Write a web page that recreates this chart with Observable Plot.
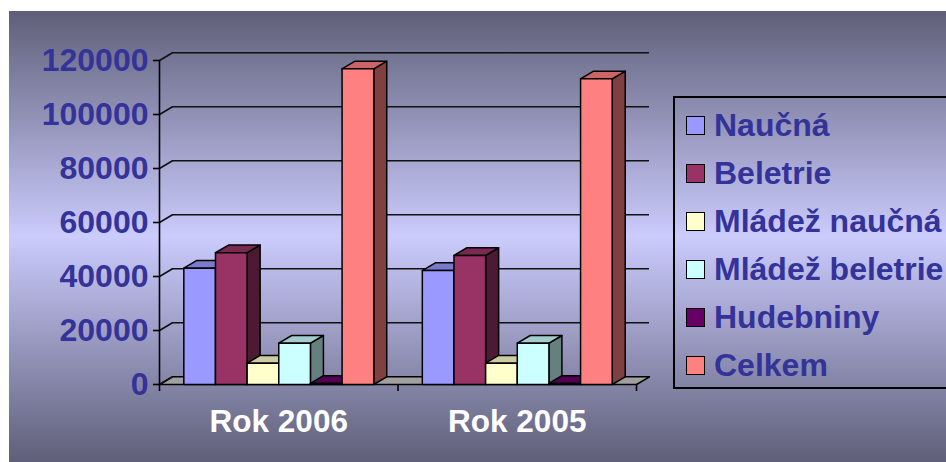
<!DOCTYPE html>
<html>
<head>
<meta charset="utf-8">
<script src="https://cdn.jsdelivr.net/npm/d3@7"></script>
<script src="https://cdn.jsdelivr.net/npm/@observablehq/plot@0.6"></script>
<style>
  html, body { margin: 0; padding: 0; background: #ffffff; }
  #wrap { position: relative; width: 946px; height: 462px; overflow: hidden; background: #ffffff;
          font-family: 'Liberation Sans', Arial, sans-serif; }
  #panel { position: absolute; left: 9px; top: 11px; right: 0; bottom: 0;
           background: linear-gradient(to bottom, #5f5f79 0%, #cbcbfd 50%, #5f5f79 100%); }
  #chart { position: absolute; left: 0; top: 0; }
  #legend { position: absolute; left: 673px; top: 96px; width: 290px; height: 286px;
            border: 2px solid #000; box-sizing: content-box; padding-top: 3px; }
  .item { height: 48px; display: flex; align-items: center; padding-left: 11px; }
  .sw { width: 17px; height: 17px; border: 1.5px solid #000; margin-right: 9px; flex: none; }
  .lab { font-size: 32px; font-weight: bold; color: #333399; white-space: nowrap; line-height: 48px; }
</style>
</head>
<body>
<div id="wrap">
  <div id="panel"></div>
  <div id="chart"></div>
  <div id="legend"></div>
</div>
<script>
// ---- data ----
const categories = ["Rok 2006", "Rok 2005"];
const seriesNames = ["Naučná", "Beletrie", "Mládež naučná", "Mládež beletrie", "Hudebniny", "Celkem"];
const naucna = [43100, 42200];
const beletrie = [48800, 47800];
const mladezNaucna = [7900, 7900];
const mladezBeletrie = [15300, 15300];
const hudebniny = [400, 400];
const celkem = [116900, 113200];
const yTicks = [0, 20000, 40000, 60000, 80000, 100000, 120000];
const seriesColors = ["#9999FF", "#993366", "#FFFFCC", "#CCFFFF", "#660066", "#FF8080"];

const seriesValues = [naucna, beletrie, mladezNaucna, mladezBeletrie, hudebniny, celkem];

// ---- 3D layout constants (in scale units) ----
const pad = 0.102, barW = 0.1327;
const ddx = 0.0545, ddy = 2850;

function shade(c, k) {
  const r = d3.rgb(c);
  return d3.rgb(r.r * k, r.g * k, r.b * k).formatHex();
}

// polygons for the bars: per bar side, top, front (drawing order)
const polys = [];
categories.forEach((cat, i) => {
  seriesValues.forEach((vals, j) => {
    const v = vals[i];
    const x1 = i + pad + j * barW, x2 = x1 + barW;
    const col = seriesColors[j];
    const add = (id, fill, pts) => pts.forEach(([x, y]) => polys.push({id, fill, x, y}));
    add(`${i}-${j}-s`, shade(col, 0.5), [[x2, 0], [x2 + ddx, ddy], [x2 + ddx, v + ddy], [x2, v], [x2, 0]]);
    add(`${i}-${j}-t`, shade(col, 0.8), [[x1, v], [x2, v], [x2 + ddx, v + ddy], [x1 + ddx, v + ddy], [x1, v]]);
    add(`${i}-${j}-f`, col, [[x1, 0], [x2, 0], [x2, v], [x1, v], [x1, 0]]);
  });
});

const nCat = categories.length;
const floor = [[0, 0], [nCat, 0], [nCat + ddx, ddy], [ddx, ddy], [0, 0]].map(([x, y]) => ({x, y}));

const font = "'Liberation Sans', Arial, sans-serif";

const chart = Plot.plot({
  width: 680,
  height: 462,
  marginLeft: 159,
  marginRight: 44,
  marginTop: 60,
  marginBottom: 78,
  x: {domain: [0, nCat]},
  y: {domain: [0, 120000]},
  color: {type: "identity"},
  style: {background: "transparent", overflow: "visible", fontFamily: font},
  marks: [
    // floor
    Plot.line(floor, {x: "x", y: "y", fill: "#a0a0a0", stroke: "black", strokeWidth: 1.5}),
    // back wall gridlines
    Plot.ruleY(yTicks.filter(d => d > 0), {y: d => d + ddy, x1: ddx, x2: nCat + ddx, stroke: "#111", strokeWidth: 1.6}),
    // connectors from axis to back wall
    Plot.link(yTicks, {x1: 0, y1: d => d, x2: ddx, y2: d => d + ddy, stroke: "#111", strokeWidth: 1.6}),
    // vertical axis line
    Plot.ruleX([0], {y1: 0, y2: 120000, stroke: "black", strokeWidth: 1.6}),
    Plot.axisY({ticks: yTicks, tickFormat: d3.format("d"), tickSize: 6, tickPadding: 5,
      stroke: "black", strokeWidth: 1.6, fill: "#333399", fontSize: 32, fontWeight: "bold", label: null}),
    // bars
    Plot.line(polys, {x: "x", y: "y", z: "id", fill: "fill", stroke: "black", strokeWidth: 1.5, strokeLinejoin: "round"}),
    // category ticks
    Plot.axisX({ticks: d3.range(nCat + 1), tickSize: 7, tickFormat: () => "", stroke: "black", strokeWidth: 1.6, label: null}),
    // category labels
    Plot.axisX({ticks: categories.map((c, i) => i + 0.5), tickFormat: d => categories[Math.floor(d)],
      tickSize: 0, tickPadding: 25, fill: "white", fontSize: 31.5, fontWeight: "bold", label: null})
  ]
});
document.getElementById("chart").appendChild(chart);

// legend
const legend = document.getElementById("legend");
seriesNames.forEach((name, j) => {
  const item = document.createElement("div");
  item.className = "item";
  const sw = document.createElement("span");
  sw.className = "sw";
  sw.style.background = seriesColors[j];
  const lab = document.createElement("span");
  lab.className = "lab";
  lab.textContent = name;
  item.appendChild(sw);
  item.appendChild(lab);
  legend.appendChild(item);
});
</script>
</body>
</html>
